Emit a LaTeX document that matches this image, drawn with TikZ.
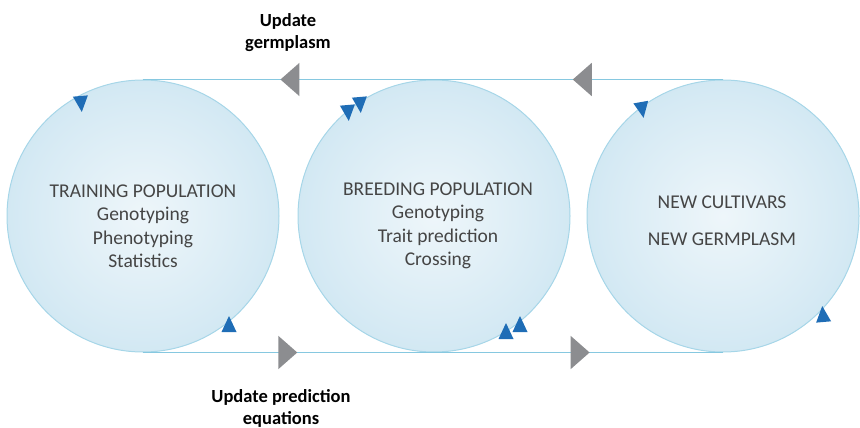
\documentclass[tikz,border=0pt]{standalone}
\usepackage{fontspec}
\setmainfont{Carlito}
\usetikzlibrary{arrows.meta,decorations.markings}
\definecolor{bubedge}{HTML}{A6D6E8}
\definecolor{bubin}{HTML}{EEF6FA}
\definecolor{bubmid}{HTML}{D6EAF4}
\definecolor{bubout}{HTML}{BCDEEE}
\definecolor{linecol}{HTML}{86C8E0}
\definecolor{arrgray}{HTML}{8C8D90}
\definecolor{arrblue}{HTML}{1F6DB6}
\definecolor{txtgray}{HTML}{454545}
\pgfdeclareradialshading{bub}{\pgfpoint{0bp}{0bp}}{color(0bp)=(bubin); color(22bp)=(bubmid); color(42bp)=(bubout); color(50bp)=(bubout)}
\tikzset{
  bubble/.style={circle, draw=bubedge, line width=1pt, shading=bub, minimum size=272pt, inner sep=0pt},
  flow/.style={draw=linecol, line width=1.8pt},
  ctext/.style={text=txtgray, font=\fontsize{19.5}{23.5}\selectfont, align=center},
  lbl/.style={text=black, font=\bfseries\fontsize{18.5}{22}\selectfont, align=center},
  bluetri/.pic={\fill[arrblue] (9pt,0pt) -- (-7pt,7.5pt) -- (-7pt,-7.5pt) -- cycle;}
}
\begin{document}
\begin{tikzpicture}[x=1pt,y=-1pt]
\useasboundingbox (0,0) rectangle (860,428);
\node[bubble] (c1) at (143,216) {};
\node[bubble] (c2) at (434,216) {};
\node[bubble] (c3) at (723,216) {};
\draw[flow, postaction={decorate, decoration={markings,
   mark=at position 0.259 with {\arrow{Triangle[length=19pt,width=33pt,color=arrgray]}},
   mark=at position 0.763 with {\arrow{Triangle[length=19pt,width=33pt,color=arrgray]}}}}]
   (c3.north) -- (c1.north);
\draw[flow, postaction={decorate, decoration={markings,
   mark=at position 0.266 with {\arrow{Triangle[length=19pt,width=33pt,color=arrgray]}},
   mark=at position 0.770 with {\arrow{Triangle[length=19pt,width=33pt,color=arrgray]}}}}]
   (c1.south) -- (c3.south);
\pic[rotate=-85] at (81,103) {bluetri};
\pic[rotate=90] at (229,325) {bluetri};
\pic[rotate=-85] at (348,112) {bluetri};
\pic[rotate=-85] at (360,104) {bluetri};
\pic[rotate=90] at (506,332) {bluetri};
\pic[rotate=90] at (520,325) {bluetri};
\pic[rotate=-80] at (642,109) {bluetri};
\pic[rotate=95] at (823,315) {bluetri};
\node[ctext] (t1) at (143,226) {TRAINING POPULATION\\Genotyping\\Phenotyping\\Statistics};
\node[ctext] (t2) at (438,226) {BREEDING POPULATION\\Genotyping\\Trait prediction\\Crossing};
\node[ctext, font=\fontsize{19.5}{37}\selectfont] (t3) at (722,221) {NEW CULTIVARS\\NEW GERMPLASM};
\node[lbl] (l1) at (288,33) {Update\\germplasm};
\node[lbl] (l2) at (281,408) {Update prediction\\equations};
\end{tikzpicture}
\end{document}
